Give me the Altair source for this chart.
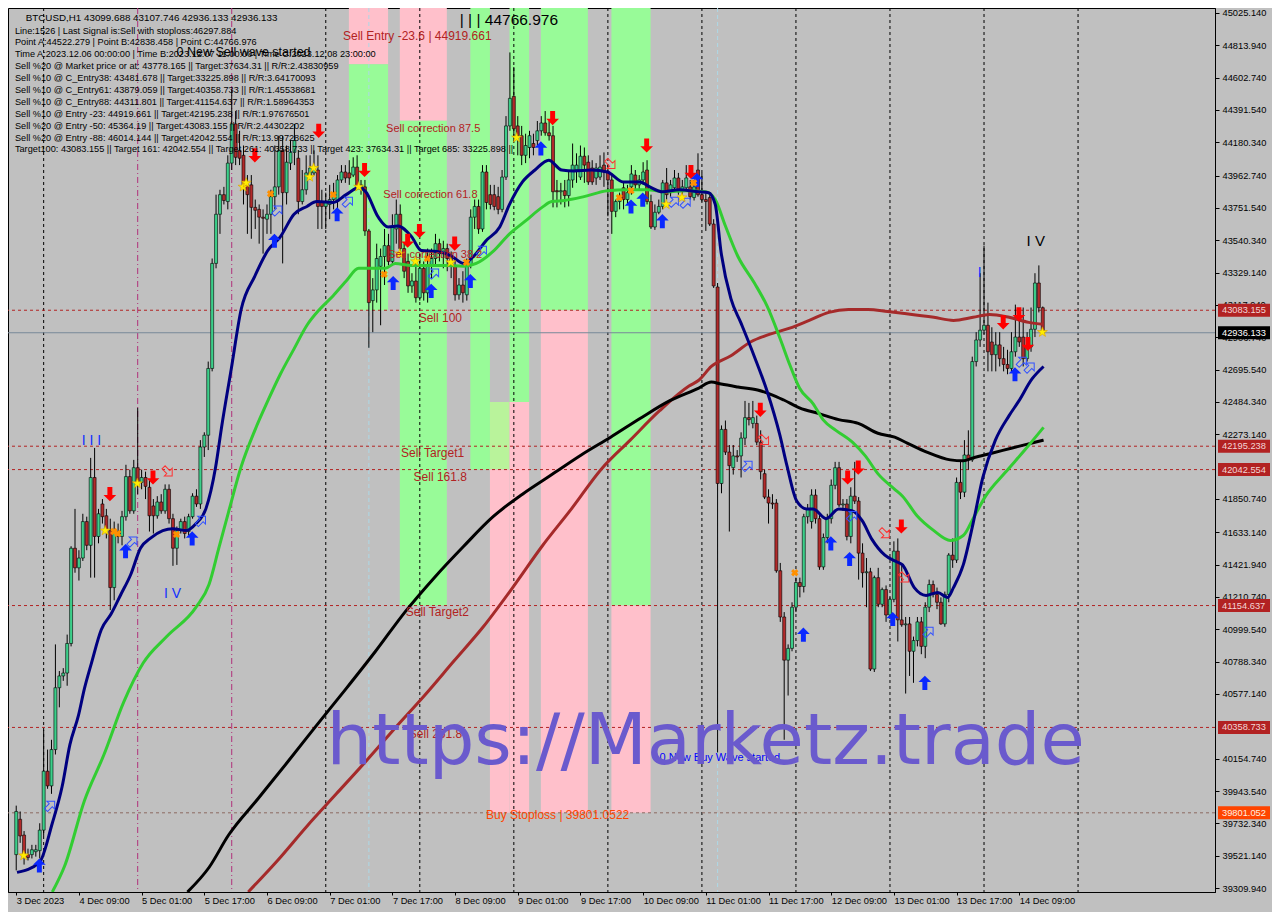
import altair as alt
import pandas as pd

# ---------------- data: BTCUSD H1, bar 0 = 3 Dec 2023 17:00 ----------------
bar_open = [
    39528, 39759, 39656, 39528, 39528, 39547, 39554, 39688, 40073, 39977,
    40214, 40618, 40695, 40714, 40907, 41529, 41401, 41465, 41703, 41548,
    41991, 41606, 41818, 41741, 41644, 41272, 41638, 41606, 41735, 41997,
    41773, 42055, 41959, 41991, 41927, 41805, 41741, 41831, 41773, 41914,
    41722, 41529, 41644, 41703, 41638, 41735, 41869, 41818, 42190, 42267,
    42703, 43389, 43710, 43838, 43793, 44044, 44300, 44127, 44095, 43902,
    43902, 43755, 43742, 43691, 43678, 43710, 43825, 43889, 44127, 43851,
    44044, 44114, 44076, 43793, 43870, 43966, 43980, 43999, 43793, 43761,
    43774, 43806, 43793, 43934, 43986, 43980, 43966, 44018, 43883, 43889,
    43601, 43146, 43216, 43370, 43434, 43505, 43402, 43614, 43710, 43486,
    43402, 43242, 43274, 43165, 43357, 43197, 43376, 43421, 43518, 43453,
    43486, 43421, 43376, 43184, 43248, 43184, 43376, 43691, 43761, 43614,
    43986, 43838, 43838, 43825, 43742, 43953, 44287, 44480, 44287, 44223,
    44095, 44146, 44172, 44191, 44255, 44306, 44242, 44223, 43864, 43857,
    43864, 43832, 43934, 43999, 43953, 44089, 44050, 44012, 43947, 43953,
    44031, 43986, 43934, 43729, 43793, 43883, 43806, 43889, 43966, 43902,
    43934, 43999, 43793, 43627, 43723, 43761, 43915, 43851, 43883, 43947,
    43870, 43883, 43889, 43819, 43999, 43838, 43806, 43819, 43646, 43235,
    41952, 42305, 42157, 42055, 42132, 42132, 42248, 42382, 42344, 42344,
    42222, 42016, 41863, 41824, 41824, 41382, 41080, 40798, 40875, 41144,
    41305, 41279, 41735, 41703, 41876, 41722, 41407, 41599, 41722, 41940,
    42055, 41812, 41818, 41606, 41869, 41837, 41497, 41369, 41375, 40740,
    41337, 41163, 41259, 41093, 41195, 41510, 41061, 41029, 41035, 40856,
    40926, 41048, 40888, 41144, 41292, 41227, 41176, 41035, 41227, 41484,
    41452, 41959, 41895, 42138, 42106, 42748, 42889, 42953, 42985, 42876,
    42793, 42857, 42767, 42729, 42703, 42812, 42908, 42908, 42767, 42844,
    42959, 43261, 43099.688,
]
bar_high = [
    39848, 39810, 39682, 39567, 39592, 39592, 39733, 40342, 40214, 40278,
    40901, 40727, 40746, 40965, 41542, 41786, 41516, 41754, 41735, 42119,
    42184, 41786, 41850, 41786, 41722, 41703, 41690, 41773, 42074, 42042,
    42106, 42446, 42042, 42029, 41978, 41850, 41869, 41882, 41946, 41946,
    41754, 41671, 41722, 41735, 41754, 41888, 41914, 42235, 42286, 42748,
    43421, 43838, 43870, 43889, 44095, 44522, 44384, 44255, 44159, 43966,
    43966, 43806, 43774, 43742, 43774, 43870, 44159, 44223, 44223, 44159,
    44191, 44300, 44127, 43999, 44095, 44095, 44127, 44095, 43870, 43851,
    43902, 43915, 43966, 44031, 44031, 44063, 44082, 44095, 43934, 43934,
    43614, 43293, 43518, 43486, 43614, 43582, 43710, 43806, 43774, 43518,
    43453, 43325, 43421, 43453, 43402, 43486, 43486, 43582, 43550, 43537,
    43518, 43467, 43421, 43293, 43338, 43421, 43742, 43806, 43806, 44031,
    44031, 43902, 43902, 43889, 43999, 44351, 44767, 44672, 44351, 44287,
    44236, 44255, 44236, 44319, 44351, 44384, 44319, 44287, 43934, 43915,
    43934, 43986, 44172, 44108, 44159, 44146, 44095, 44063, 44044, 44095,
    44114, 44031, 43980, 43806, 43851, 43915, 43902, 44031, 43999, 43966,
    44050, 44063, 43838, 43774, 43806, 43934, 44012, 43934, 43999, 43980,
    43934, 44031, 43934, 43934, 44108, 43980, 43851, 43851, 43678, 43261,
    42331, 42363, 42203, 42203, 42170, 42286, 42491, 42478, 42491, 42395,
    42299, 42042, 41914, 41882, 41850, 41433, 41112, 40901, 41176, 41337,
    41337, 41754, 41818, 41914, 41914, 41754, 41625, 41754, 41978, 42093,
    42093, 41850, 41850, 41927, 42093, 41863, 41561, 41465, 41401, 41350,
    41401, 41272, 41286, 41208, 41574, 41593, 41433, 41080, 41080, 40952,
    41080, 41080, 41176, 41324, 41318, 41272, 41208, 41246, 41497, 41593,
    41991, 42106, 42235, 42299, 42780, 42940, 43325, 43505, 43133, 42972,
    42940, 42940, 42844, 42825, 42940, 43120, 43069, 43101, 42940, 43101,
    43325, 43376, 43107.746,
]
bar_low = [
    39425, 39605, 39463, 39490, 39503, 39515, 39503, 39650, 39958, 39925,
    40182, 40490, 40663, 40631, 40888, 41369, 41318, 41446, 41516, 41337,
    41337, 41561, 41690, 41593, 41125, 41189, 41561, 41548, 41709, 41754,
    41754, 41882, 41914, 41850, 41638, 41625, 41722, 41754, 41754, 41690,
    41414, 41420, 41625, 41593, 41612, 41722, 41799, 41786, 42125, 42170,
    42684, 43357, 43582, 43774, 43742, 43999, 44031, 44031, 43774, 43582,
    43550, 43614, 43518, 43453, 43582, 43582, 43742, 43838, 43389, 43774,
    43999, 44031, 43710, 43774, 43838, 43934, 43966, 43614, 43614, 43614,
    43678, 43742, 43742, 43915, 43915, 43902, 43953, 43870, 43838, 43569,
    42838, 42940, 43133, 42985, 43248, 43376, 43376, 43518, 43453, 43293,
    43197, 43197, 43133, 43146, 43146, 43133, 43293, 43376, 43402, 43357,
    43338, 43293, 43146, 43152, 43133, 43146, 43357, 43614, 43582, 43595,
    43742, 43742, 43736, 43710, 43723, 43934, 44255, 44191, 44095, 44031,
    44044, 44076, 44095, 44159, 44223, 44223, 44191, 43755, 43755, 43774,
    43755, 43761, 43883, 43915, 43934, 43915, 43902, 43902, 43902, 43934,
    43889, 43697, 43582, 43691, 43742, 43742, 43774, 43838, 43870, 43870,
    43902, 43774, 43614, 43608, 43710, 43742, 43806, 43825, 43864, 43838,
    43838, 43870, 43806, 43800, 43825, 43793, 43601, 43633, 43229, 40195,
    41888, 42138, 41638, 42010, 42093, 41991, 42203, 42331, 42312, 42203,
    41978, 41850, 41690, 41786, 41369, 41048, 40278, 40567, 40856, 41112,
    41208, 41240, 41690, 41657, 41690, 41388, 41388, 41561, 41690, 41914,
    41799, 41773, 41580, 41561, 41818, 41324, 41272, 41144, 40727, 40721,
    41144, 41144, 41048, 41067, 41176, 40920, 41016, 40580, 40695, 40650,
    40888, 40837, 40811, 41112, 41208, 41131, 41029, 41016, 41176, 41401,
    41433, 41850, 41863, 42042, 42093, 42716, 42844, 42927, 42684, 42684,
    42684, 42716, 42684, 42665, 42684, 42780, 42844, 42716, 42748, 42812,
    42908, 43069, 42936.133,
]
bar_close = [
    39810, 39650, 39522, 39509, 39560, 39560, 39688, 40073, 39977, 40214,
    40618, 40695, 40714, 40907, 41529, 41401, 41465, 41703, 41548, 41991,
    41606, 41754, 41735, 41644, 41272, 41638, 41606, 41735, 41997, 41773,
    42055, 41959, 41991, 41933, 41741, 41741, 41831, 41773, 41914, 41722,
    41529, 41644, 41703, 41625, 41735, 41869, 41818, 42190, 42267, 42703,
    43389, 43710, 43838, 43800, 44044, 44300, 44082, 44076, 43902, 43838,
    43755, 43736, 43691, 43684, 43710, 43825, 43889, 44127, 43851, 44050,
    44114, 44191, 43793, 43870, 43980, 44012, 44018, 43761, 43761, 43793,
    43806, 43838, 43934, 43986, 43947, 43947, 44018, 43889, 43902, 43601,
    43133, 43216, 43421, 43434, 43505, 43402, 43627, 43710, 43486, 43338,
    43242, 43274, 43165, 43357, 43197, 43376, 43421, 43518, 43453, 43486,
    43421, 43376, 43184, 43248, 43197, 43376, 43691, 43761, 43614, 43986,
    43787, 43774, 43761, 43742, 43953, 44287, 44467, 44268, 44223, 44095,
    44159, 44223, 44146, 44255, 44306, 44242, 44223, 43857, 43857, 43864,
    43832, 43934, 44031, 44031, 44089, 44031, 43921, 43921, 44012, 44018,
    43986, 43934, 43729, 43793, 43825, 43806, 43851, 43973, 43902, 43934,
    43986, 43793, 43627, 43723, 43761, 43915, 43838, 43902, 43947, 43857,
    43889, 43947, 43825, 43889, 43838, 43806, 43793, 43646, 43242, 41952,
    42305, 42157, 42068, 42132, 42125, 42248, 42382, 42369, 42382, 42222,
    42029, 41863, 41824, 41818, 41382, 41080, 40798, 40875, 41144, 41305,
    41279, 41735, 41786, 41876, 41722, 41407, 41599, 41722, 41940, 42055,
    41812, 41818, 41606, 41869, 41837, 41497, 41369, 41375, 40740, 41337,
    41163, 41259, 41093, 41195, 41510, 41061, 41029, 41035, 40856, 40926,
    41048, 40888, 41144, 41292, 41227, 41176, 41035, 41227, 41484, 41452,
    41959, 41895, 42138, 42106, 42748, 42889, 42953, 42985, 42812, 42793,
    42857, 42767, 42729, 42703, 42812, 42908, 42876, 42767, 42844, 42959,
    43261, 43100, 42936.133,
]

time_labels = ["3 Dec 2023", "4 Dec 09:00", "5 Dec 01:00", "5 Dec 17:00", "6 Dec 09:00",
               "7 Dec 01:00", "7 Dec 17:00", "8 Dec 09:00", "9 Dec 01:00", "9 Dec 17:00",
               "10 Dec 09:00", "11 Dec 01:00", "11 Dec 17:00", "12 Dec 09:00", "13 Dec 01:00",
               "13 Dec 17:00", "14 Dec 09:00"]
time_label_bars = [0, 16, 32, 48, 64, 80, 96, 112, 128, 144, 160, 176, 192, 208, 224, 240, 256]

price_ticks = [45025.14, 44813.94, 44602.74, 44391.54, 44180.34, 43962.74, 43751.54, 43540.34,
               43329.14, 43117.94, 42906.74, 42695.54, 42484.34, 42273.14, 41850.74, 41633.14,
               41421.94, 41210.74, 40999.54, 40788.34, 40577.14, 40154.74, 39943.54, 39732.34,
               39521.14, 39309.94]

# moving averages (bar index, price)
navy_i = [0.2, 5.9, 9.2, 11.7, 13.7, 15.9, 17.4, 19.2, 21.7, 24.2, 26.7, 29.2, 31.7, 34.2, 37.4, 39.9,
          43.4, 45.9, 48.4, 50.9, 52.4, 54.9, 57.4, 60.9, 64.2, 67.4, 70.9, 74.2, 76.7, 80.9, 84.2,
          87.4, 89.2, 92.4, 94.9, 97.4, 100.9, 103.4, 107.4, 110.9, 114.2, 116.7, 119.9, 123.4,
          125.9, 129.2, 132.4, 135.9, 139.2, 142.4, 146.7, 150.9, 154.9, 159.2, 161.7, 164.9,
          169.2, 174.2, 176.7, 178.4, 179.9, 182.4, 184.9, 188.4, 191.7, 194.9, 196.7, 199.2,
          201.7, 203.4, 206.7, 209.9, 213.4, 215.9, 218.4, 221.7, 224.2, 226.2, 229.2, 232.2,
          235.2, 237.7, 239.2, 241.7, 244.2, 246.7, 249.9, 253.4, 255.9, 259.2, 262.2]
navy_p = [39412, 39476, 39733, 39971, 40246, 40439, 40612, 40779, 40997, 41099, 41227, 41356, 41529,
          41593, 41644, 41657, 41644, 41690, 41786, 42061, 42318, 42703, 43088, 43306, 43473, 43563,
          43710, 43761, 43793, 43787, 43838, 43883, 43857, 43691, 43627, 43633, 43563, 43473, 43467,
          43440, 43389, 43434, 43537, 43627, 43774, 43921, 43999, 44063, 43999, 43993, 43999, 43986,
          43921, 43921, 43889, 43857, 43870, 43857, 43851, 43774, 43460, 43159, 43004, 42780, 42549,
          42267, 42068, 41837, 41786, 41786, 41722, 41786, 41773, 41709, 41587, 41484, 41446, 41420,
          41272, 41221, 41240, 41208, 41272, 41420, 41690, 41991, 42235, 42395, 42491, 42633, 42716]

green_i = [9.2, 12.4, 17.4, 22.4, 27.4, 32.4, 38.4, 45.9, 49.2, 51.7, 54.2, 57.4, 60.9, 64.2, 67.4,
           70.9, 74.2, 77.4, 80.9, 84.2, 87.4, 90.9, 94.2, 96.7, 100.9, 109.2, 114.2, 117.4, 121.7,
           125.9, 129.9, 134.2, 136.7, 139.9, 144.9, 150.9, 155.9, 160.9, 165.9, 170.9, 175.9,
           178.4, 180.9, 184.2, 188.4, 191.7, 194.9, 197.4, 199.9, 203.4, 205.9, 209.2, 213.4,
           216.7, 219.9, 224.2, 226.2, 229.9, 234.2, 238.4, 241.7, 244.2, 247.4, 252.4, 257.4, 262.2]
green_p = [39284, 39457, 39880, 40182, 40522, 40779, 40952, 41144, 41292, 41529, 41767, 42061, 42299,
           42491, 42665, 42831, 42985, 43088, 43178, 43274, 43357, 43357, 43357, 43389, 43376, 43376,
           43370, 43389, 43467, 43582, 43665, 43755, 43793, 43800, 43825, 43864, 43870, 43870, 43857,
           43864, 43857, 43806, 43640, 43434, 43261, 43107, 42902, 42729, 42575, 42472, 42369, 42299,
           42222, 42132, 42016, 41914, 41869, 41741, 41644, 41580, 41612, 41722, 41869, 42023, 42170,
           42318]

black_i = [43.7, 49.2, 54.2, 61.7, 69.2, 76.7, 84.2, 91.7, 99.2, 106.7, 114.2, 121.7, 129.2, 136.7,
           144.2, 151.7, 159.2, 166.7, 174.2, 177.4, 179.9, 184.2, 189.2, 192.4, 195.9, 199.9, 204.9,
           209.9, 214.9, 219.9, 224.2, 227.4, 232.4, 238.4, 241.7, 244.2, 249.2, 254.2, 259.2, 262.2]
black_p = [39284, 39444, 39656, 39893, 40131, 40374, 40612, 40856, 41112, 41337, 41542, 41735, 41882,
           42010, 42138, 42254, 42376, 42491, 42575, 42614, 42601, 42582, 42562, 42536, 42497, 42446,
           42408, 42369, 42344, 42280, 42254, 42216, 42157, 42106, 42100, 42119, 42151, 42184, 42216,
           42235]

brown_i = [59.2, 66.7, 74.2, 81.7, 89.2, 96.7, 104.2, 111.7, 119.2, 126.7, 134.2, 141.7, 149.2, 156.7,
           164.2, 171.7, 174.2, 177.4, 182.4, 187.4, 192.4, 197.4, 202.4, 207.4, 212.4, 217.4, 222.4,
           226.7, 234.2, 239.2, 244.2, 248.4, 253.4, 258.4, 262.2]
brown_p = [39284, 39490, 39714, 39925, 40137, 40355, 40567, 40792, 41016, 41272, 41542, 41786, 42042,
           42235, 42427, 42588, 42626, 42716, 42786, 42876, 42927, 42966, 43017, 43069, 43088, 43088,
           43075, 43062, 43037, 43017, 43037, 43056, 43037, 43004, 42991]

# signal markers (bar index, price)
sell_arrow_i = [23.9, 34.9, 60.9, 77.2, 88.9, 99.9, 102.9, 111.9, 136.9, 160.9, 172.2, 189.9, 212.2,
                214.9, 225.9, 251.9, 255.9, 258.2]
sell_arrow_p = [41882, 41991, 44095, 44255, 43999, 43537, 43601, 43518, 44338, 44159, 43986, 42433,
                41991, 42055, 41671, 43004, 43056, 42863]
buy_arrow_i = [5.9, 27.9, 44.9, 65.9, 81.9, 96.2, 105.9, 115.9, 133.9, 156.9, 159.9, 164.9, 173.7,
               200.9, 207.9, 212.7, 223.7, 231.9, 254.9]
buy_arrow_p = [39457, 41510, 41593, 43537, 43710, 43261, 43210, 43274, 44140, 43761, 43806, 43665,
               43934, 40965, 41561, 41459, 41067, 40650, 42665]
buy_hint_i = [8.7, 29.7, 47.2, 66.7, 84.7, 106.7, 118.9, 167.9, 170.9, 186.7, 213.4, 232.9, 256.7, 258.7]
buy_hint_p = [39848, 41574, 41709, 43736, 43793, 43325, 43473, 43793, 43787, 42068, 41741, 40984,
              42748, 42710]
sell_hint_i = [38.7, 151.7, 190.9, 221.7, 226.7]
sell_hint_p = [42029, 44037, 42235, 41625, 41337]
star_i = [1.9, 22.7, 30.9, 57.9, 58.7, 74.9, 75.9, 87.4, 97.9, 101.9, 110.9, 127.7, 165.9, 169.9, 261.9]
star_p = [39522, 41644, 41952, 43889, 43915, 43953, 44012, 43889, 43453, 43402, 43396, 44210, 43774,
          43819, 42940]
cross_i = [24.9, 25.9, 40.9, 64.9, 80.9, 93.9, 104.9, 114.9, 153.9, 156.9, 172.9, 198.7]
cross_p = [41638, 41625, 41619, 43844, 43838, 43318, 43421, 43396, 43819, 43864, 43915, 41369]

# levels
target_levels = [43083.155, 42195.238, 42042.554, 41154.637, 40358.733]
stoploss_level = 39801.052
current_price = 42936.133
price_boxes = [43083.155, 42936.133, 42195.238, 42042.554, 41154.637, 40358.733, 39801.052]
box_kind = ["target", "current", "target", "target", "target", "target", "stop"]

# background zones (bar index from/to, price top/bottom, kind)
zone_from = [84.9, 84.9, 97.9, 97.9, 115.9, 120.9, 120.9, 125.9, 125.9, 133.9, 133.9, 151.9, 151.9]
zone_to = [94.9, 94.9, 109.9, 109.9, 120.9, 125.9, 125.9, 130.9, 130.9, 145.9, 145.9, 161.9, 161.9]
zone_top = [45057, 44690, 45057, 44320, 45057, 42484, 42042.554, 45057, 42484, 45057, 43083.155,
            45057, 41154.637]
zone_bottom = [44690, 43083.155, 44320, 41154.637, 42042.554, 42042.554, 39801.052, 42484, 39801.052,
               43083.155, 39801.052, 41154.637, 39801.052]
zone_kind = ["sell", "buy", "sell", "buy", "buy", "mid", "sell", "buy", "sell", "buy", "sell", "buy", "sell"]

# day separators and markers
day_sep_bars = [7, 79, 103, 127, 151, 175, 199, 223, 247, 271]
mark_sep_bars = [31, 55]
time_mark_bars = [90, 179]

# chart texts (bar index, price, text)
level_text = ["Sell correction 87.5", "Sell correction 61.8", "Sell correction 38.2", "Sell 100",
              "Sell Target1", "Sell 161.8", "Sell Target2", "Sell 261.8"]
level_text_i = [94.4, 93.7, 94.9, 102.7, 98.2, 101.4, 99.4, 100.2]
level_text_p = [44268, 43838, 43441, 43030, 42151, 41997, 41112, 40316]

info_lines = [
    "Line:1526 | Last Signal is:Sell with stoploss:46297.884",
    "Point A:44522.279 | Point B:42838.458 | Point C:44766.976",
    "Time A:2023.12.06 00:00:00 | Time B:2023.12.07 11:00:00 | Time C:2023.12.08 23:00:00",
    "Sell %20 @ Market price or at: 43778.165 || Target:37634.31 || R/R:2.43830959",
    "Sell %10 @ C_Entry38: 43481.678 || Target:33225.898 || R/R:3.64170093",
    "Sell %10 @ C_Entry61: 43879.059 || Target:40358.733 || R/R:1.45538681",
    "Sell %10 @ C_Entry88: 44311.801 || Target:41154.637 || R/R:1.58964353",
    "Sell %10 @ Entry -23: 44919.661 || Target:42195.238 || R/R:1.97676501",
    "Sell %20 @ Entry -50: 45364.19 || Target:43083.155 || R/R:2.44302202",
    "Sell %20 @ Entry -88: 46014.144 || Target:42042.554 || R/R:13.99728625",
    "Target100: 43083.155 || Target 161: 42042.554 || Target 261: 40358.733 || Target 423: 37634.31 || Target 685: 33225.898 ||",
]
header_line = "BTCUSD,H1  43099.688 43107.746 42936.133 42936.133"

# ---------------- layout ----------------
W, H = 1207, 884
X_DOM = [-0.825, 304.675]
Y_DOM = [39284.0, 45057.0]
PX = (Y_DOM[1] - Y_DOM[0]) / H
SX, SY = W / 1222.0, H / 900.0
FONT = "Liberation Sans"

xs = alt.Scale(domain=X_DOM, nice=False, zero=False)
ys = alt.Scale(domain=Y_DOM, nice=False, zero=False)

label_expr = "[" + ",".join("'%s'" % s for s in time_labels) + "][round(datum.value/16)]"
x_axis = alt.Axis(values=time_label_bars, labelExpr=label_expr, labelAlign="left", labelFont=FONT,
                  labelFontSize=9.3, labelColor="black", tickColor="black", tickSize=3,
                  domainColor="black", labelPadding=1, title=None, grid=False,
                  labelOverlap=False, labelFlush=False, labelBound=False)
y_axis = alt.Axis(orient="right", values=price_ticks, format=".3f", labelFont=FONT, labelFontSize=9.3,
                  labelColor="black", tickColor="black", tickSize=4, domainColor="black",
                  labelPadding=3, title=None, grid=False, labelOverlap=False, labelFlush=False,
                  labelBound=False)


def X(f="i"):
    return alt.X(f + ":Q", scale=xs, axis=x_axis)


def Y(f="p"):
    return alt.Y(f + ":Q", scale=ys, axis=y_axis)


candles = pd.DataFrame({"open": bar_open, "high": bar_high, "low": bar_low, "close": bar_close})
candles["i"] = range(len(candles))
candles["lo"] = candles[["open", "close"]].min(axis=1)
candles["hi"] = candles[["open", "close"]].max(axis=1)
candles["dir"] = ["up" if c >= o else "down" for o, c in zip(candles["open"], candles["close"])]

zones = pd.DataFrame({"i": zone_from, "i2": zone_to, "p": zone_top, "p2": zone_bottom, "k": zone_kind})
zone_layer = alt.Chart(zones).mark_rect().encode(
    x=X(), x2="i2:Q", y=Y(), y2="p2:Q",
    color=alt.Color("k:N", scale=alt.Scale(domain=["sell", "buy", "mid"],
                                           range=["#ffc0cb", "#98fb98", "#b9f39b"]), legend=None))

sep_layer = alt.Chart(pd.DataFrame({"i": day_sep_bars})).mark_rule(
    color="black", strokeWidth=1, strokeDash=[3, 3]).encode(x=X())
msep_layer = alt.Chart(pd.DataFrame({"i": mark_sep_bars})).mark_rule(
    color="#b0307a", strokeWidth=1, strokeDash=[6, 3, 1, 3]).encode(x=X())
tmark_layer = alt.Chart(pd.DataFrame({"i": time_mark_bars})).mark_rule(
    color="#add8e6", strokeWidth=1, strokeDash=[4, 3]).encode(x=X())

lvl_layer = alt.Chart(pd.DataFrame({"p": target_levels})).mark_rule(
    color="#b22222", strokeWidth=1, strokeDash=[3, 3]).encode(y=Y())
stop_layer = alt.Chart(pd.DataFrame({"p": [stoploss_level]})).mark_rule(
    color="#8c6a60", strokeWidth=1, strokeDash=[3, 3]).encode(y=Y())
cur_layer = alt.Chart(pd.DataFrame({"p": [current_price]})).mark_rule(
    color="#778899", strokeWidth=1).encode(y=Y())

wick_layer = alt.Chart(candles).mark_rule(color="black", strokeWidth=1).encode(
    x=X(), y=Y("low"), y2="high:Q")
body_layer = alt.Chart(candles).mark_bar(size=3, stroke="black", strokeWidth=0.6).encode(
    x=X(), y=Y("lo"), y2="hi:Q",
    color=alt.Color("dir:N", scale=alt.Scale(domain=["up", "down"], range=["#3ccf8a", "#b22a2a"]),
                    legend=None))


def ma(ii, pp, col):
    return alt.Chart(pd.DataFrame({"i": ii, "p": pp})).mark_line(
        color=col, strokeWidth=3, clip=True, interpolate="monotone").encode(x=X(), y=Y())


ma_layers = [ma(brown_i, brown_p, "#a52a2a"), ma(black_i, black_p, "#000000"),
             ma(green_i, green_p, "#32cd32"), ma(navy_i, navy_p, "#000080")]

UP = "M -0.35 1 L 0.35 1 L 0.35 -0.1 L 0.9 -0.1 L 0 -1 L -0.9 -0.1 L -0.35 -0.1 Z"
DOWN = "M -0.35 -1 L 0.35 -1 L 0.35 0.1 L 0.9 0.1 L 0 1 L -0.9 0.1 L -0.35 0.1 Z"
STAR = ("M0,-1 L0.235,-0.324 L0.951,-0.309 L0.38,0.124 L0.588,0.809 L0,0.4 L-0.588,0.809 "
        "L-0.38,0.124 L-0.951,-0.309 L-0.235,-0.324 Z")


def pts(ii, pp):
    return alt.Chart(pd.DataFrame({"i": ii, "p": pp}))


marker_layers = [
    pts(sell_arrow_i, sell_arrow_p).mark_point(shape=DOWN, filled=True, color="#ff0000", size=200,
                                              opacity=1, strokeWidth=0).encode(x=X(), y=Y()),
    pts(buy_arrow_i, buy_arrow_p).mark_point(shape=UP, filled=True, color="#0a28ff", size=200,
                                            opacity=1, strokeWidth=0).encode(x=X(), y=Y()),
    pts(buy_hint_i, buy_hint_p).mark_point(shape=UP, filled=False, angle=45, color="#3050ff", size=150,
                                          opacity=1, strokeWidth=1).encode(x=X(), y=Y()),
    pts(sell_hint_i, sell_hint_p).mark_point(shape=UP, filled=False, angle=135, color="#ff3030",
                                            size=150, opacity=1, strokeWidth=1).encode(x=X(), y=Y()),
    pts(cross_i, cross_p).mark_point(shape="cross", angle=45, filled=True, color="#ff9000", size=55,
                                    opacity=1).encode(x=X(), y=Y()),
    pts(star_i, star_p).mark_point(shape=STAR, filled=True, fill="#ffee00", stroke="#d8a000",
                                  strokeWidth=0.6, size=110, opacity=1).encode(x=X(), y=Y()),
]


def txt(ii, pp, tt, **kw):
    return alt.Chart(pd.DataFrame({"i": ii, "p": pp, "t": tt})).mark_text(**kw).encode(
        x=X(), y=Y(), text="t:N")


text_layers = [
    txt(level_text_i[:3], level_text_p[:3], level_text[:3], align="left", baseline="middle",
        font=FONT, fontSize=11, color="#b22222"),
    txt(level_text_i[3:], level_text_p[3:], level_text[3:], align="left", baseline="middle",
        font=FONT, fontSize=12, color="#b22222"),
    txt([83.4], [44877], ["Sell Entry -23.6 | 44919.661"], align="left", baseline="middle",
        font=FONT, fontSize=12, color="#b22222"),
    txt([113.2], [44980], ["| | | 44766.976"], align="left", baseline="middle", font=FONT,
        fontSize=15.5, color="black"),
    txt([119.9], [39784], ["Buy Stoploss | 39801.0522"], align="left", baseline="middle",
        font=FONT, fontSize=12, color="#ff4500"),
    txt([164.2], [40156], ["0 New Buy Wave started"], align="left", baseline="middle", font=FONT,
        fontSize=11, color="#0000ff"),
    txt([40.9], [44768], ["0 New Sell wave started"], align="left", baseline="middle", font=FONT,
        fontSize=12.5, color="black"),
    txt([19.2, 39.9, 245.9], [42228, 41227, 43325], ["I I I", "I V", "I"], align="center",
        baseline="middle", font=FONT, fontSize=14, color="#1030ff"),
    txt([260.2], [43537], ["I V"], align="center", baseline="middle", font=FONT, fontSize=15,
        color="black"),
]

hud_layers = [alt.Chart(pd.DataFrame({"t": [header_line]})).mark_text(
    align="left", baseline="middle", font=FONT, fontSize=9.8, color="black").encode(
    x=alt.value(18 * SX), y=alt.value(10 * SY), text="t:N")]
for k, line in enumerate(info_lines):
    hud_layers.append(alt.Chart(pd.DataFrame({"t": [line]})).mark_text(
        align="left", baseline="middle", font=FONT, fontSize=9.2, color="black").encode(
        x=alt.value(7 * SX), y=alt.value((23 + 12.1 * k) * SY), text="t:N"))

watermark = txt([79.2], [40118], ["https://Marketz.trade"], align="left", baseline="alphabetic",
                font="DejaVu Sans", fontSize=72, color="#6a5acd")

hh = 6.5 * PX
boxes = pd.DataFrame({"p": [v + hh for v in price_boxes], "p2": [v - hh for v in price_boxes],
                      "pc": price_boxes, "k": box_kind,
                      "t": ["%.3f" % v for v in price_boxes]})
box_scale = alt.Scale(domain=["target", "current", "stop"], range=["#b22222", "#000000", "#ff4500"])
box_layer = alt.Chart(boxes).mark_rect().encode(
    x=alt.value(W + 3), x2=alt.value(W + 55), y=Y("p"), y2="p2:Q",
    color=alt.Color("k:N", scale=box_scale, legend=None))
box_text = alt.Chart(boxes).mark_text(align="left", baseline="middle", font=FONT, fontSize=9.3).encode(
    x=alt.value(W + 7), y=Y("pc"), text="t:N",
    color=alt.Color("k:N", scale=alt.Scale(domain=["target", "current", "stop"],
                                           range=["#f2d6d6", "#ffffff", "#fff0e0"]), legend=None))

layers = ([zone_layer, sep_layer, msep_layer, tmark_layer, lvl_layer, stop_layer, cur_layer,
           wick_layer, body_layer] + ma_layers + marker_layers + text_layers + hud_layers +
          [watermark, box_layer, box_text])

chart = alt.layer(*layers).resolve_scale(color="independent").properties(
    width=W, height=H,
    padding={"left": 0, "top": 0, "right": 57, "bottom": 20},
    autosize=alt.AutoSizeParams(type="none"),
).configure(background="#c0c0c0").configure_view(stroke="black", strokeWidth=1, fill="#c0c0c0")

chart.save("out.html", embed_options={"renderer": "svg", "actions": False})
